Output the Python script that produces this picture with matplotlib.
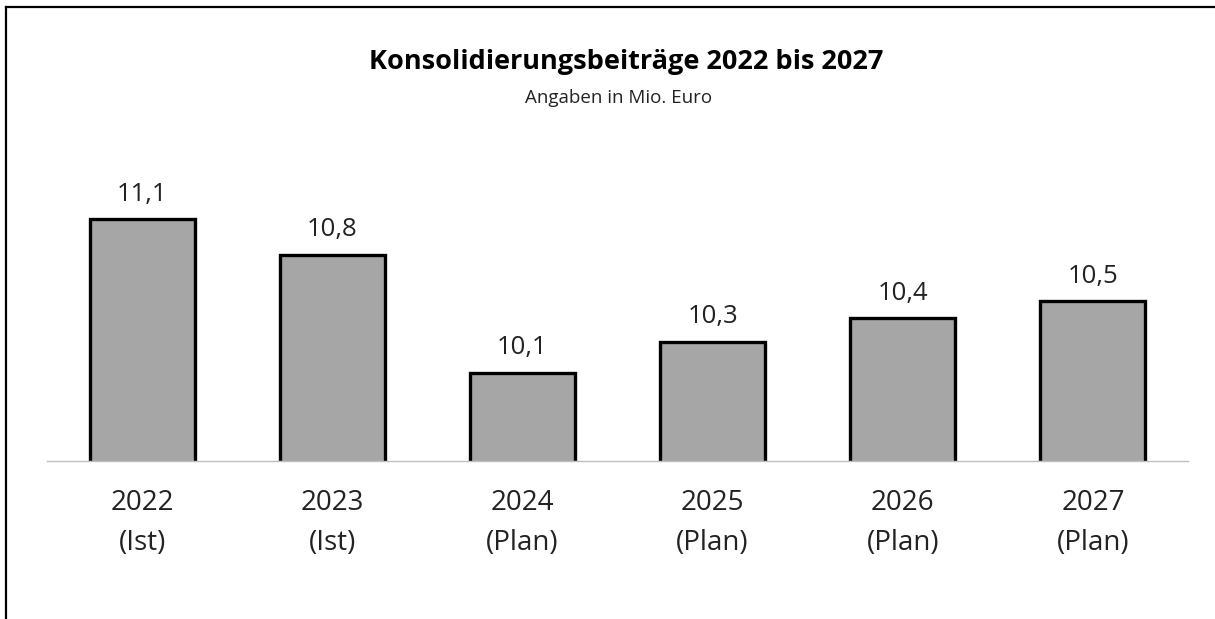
import matplotlib
matplotlib.use("Agg")
import matplotlib.pyplot as plt
from matplotlib.lines import Line2D

plt.rcParams['font.family'] = ['Open Sans', 'DejaVu Sans']

years = ["2022", "2023", "2024", "2025", "2026", "2027"]
status = ["(Ist)", "(Ist)", "(Plan)", "(Plan)", "(Plan)", "(Plan)"]
values = [11.06, 10.83, 10.07, 10.27, 10.42, 10.53]

title = "Konsolidierungsbeiträge 2022 bis 2027"
subtitle = "Angaben in Mio. Euro"

W, H = 1215, 619
fig = plt.figure(figsize=(W / 100, H / 100), dpi=100)
ax = fig.add_axes([47 / W, (H - 461) / H, (1188 - 47) / W, 387.5 / H])

x = list(range(len(years)))
bars = ax.bar(x, values, width=0.553, bottom=0, color="#a6a6a6",
              edgecolor="black", linewidth=2.4, zorder=2)
ax.set_ylim(9.5, 12.0)
ax.set_xlim(-0.5, len(years) - 0.5)

for xi, v in zip(x, values):
    lbl = f"{v:.1f}".replace(".", ",")
    ax.annotate(lbl, (xi, v), xytext=(0, 9), textcoords="offset points",
                ha="center", va="bottom", fontsize=18.5, color="#222222")

for s in ["top", "right", "left"]:
    ax.spines[s].set_visible(False)
ax.spines["bottom"].set_color("#bfbfbf")
ax.spines["bottom"].set_linewidth(1.0)
ax.spines["bottom"].set_zorder(3)
ax.set_yticks([])
ax.set_xticks(x)
ax.set_xticklabels([f"{y}\n{s}" for y, s in zip(years, status)],
                   fontsize=20, color="#222222", linespacing=1.6)
ax.tick_params(axis="x", length=0, pad=20)

fig.text(626 / W, 1 - 62 / H, title, ha="center", va="center",
         fontsize=19.5, fontweight="bold", color="black")
fig.text(619 / W, 1 - 98 / H, subtitle, ha="center", va="center",
         fontsize=13.5, color="#222222")

fig.add_artist(Line2D([5.5 / W, 5.5 / W], [0, 1 - 7 / H], color="black",
                      linewidth=1.6, transform=fig.transFigure))
fig.add_artist(Line2D([5.5 / W, 1], [1 - 7 / H, 1 - 7 / H], color="black",
                      linewidth=1.6, transform=fig.transFigure))

fig.savefig("out.png", dpi=100)
